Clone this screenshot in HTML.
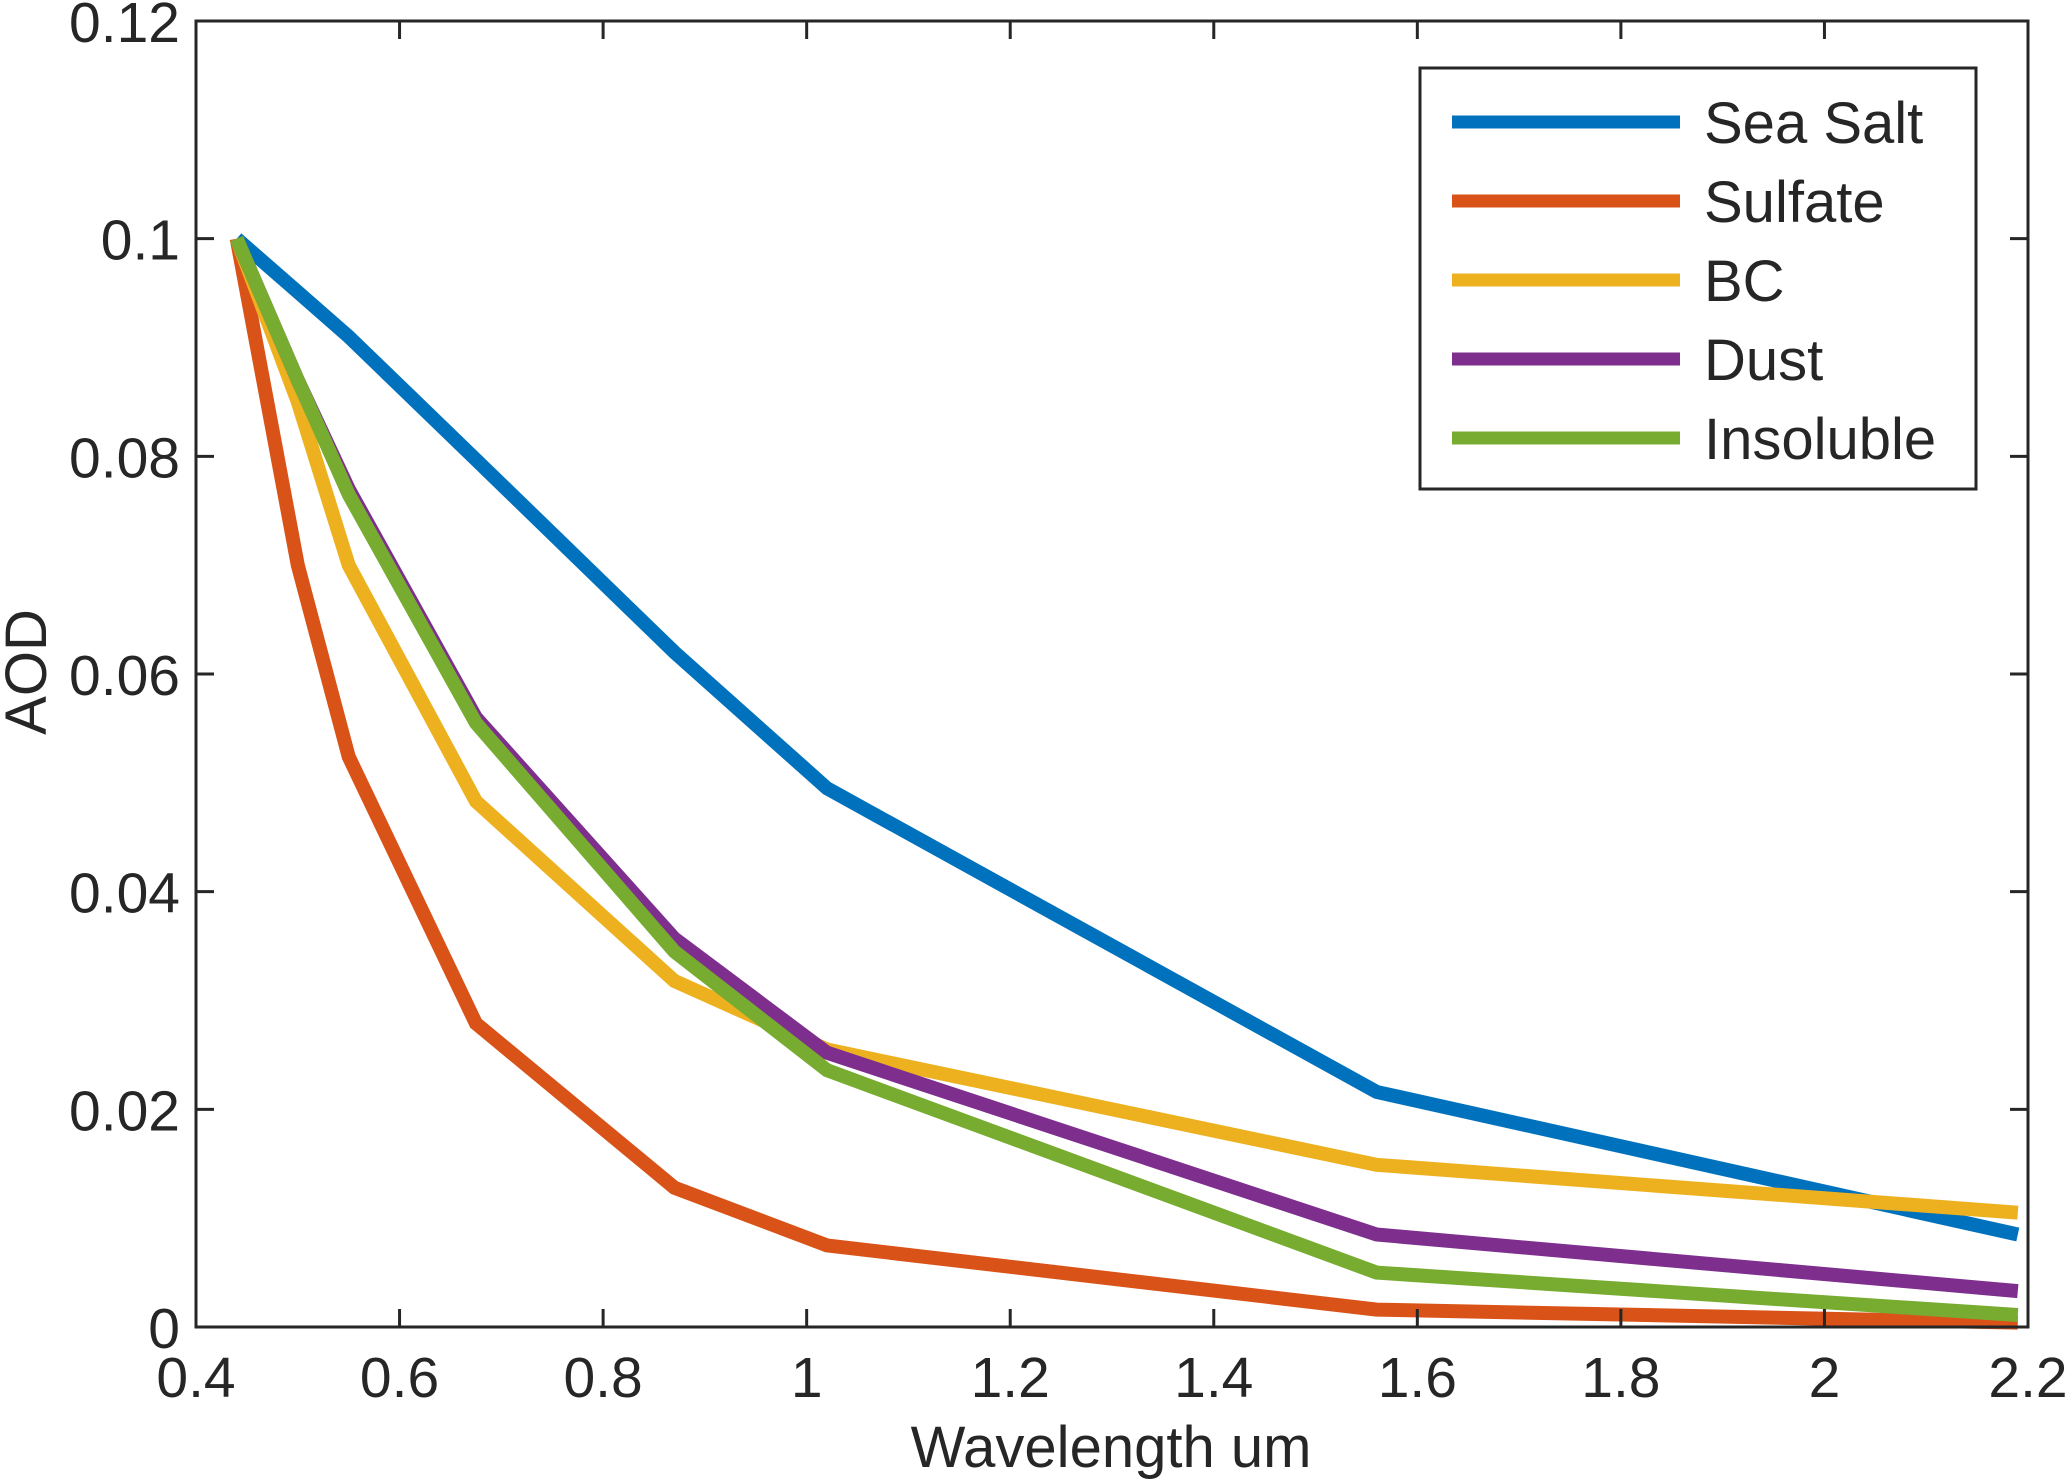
<!DOCTYPE html>
<html><head><meta charset="utf-8"><style>
html,body{margin:0;padding:0;background:#fff}
svg{display:block}
text{font-family:"Liberation Sans",Arial,sans-serif;fill:#262626}
</style></head><body>
<svg id="chart" width="2066" height="1481" viewBox="0 0 2066 1481">
<g id="series"></g>
<g id="axes"></g>
<g id="legend"></g>
</svg>
<script>
const wavelengths = [0.44, 0.5, 0.55, 0.675, 0.87, 1.02, 1.56, 2.19];
const seaSalt   = [0.1, 0.0951, 0.091, 0.0797, 0.062, 0.0495, 0.0216, 0.0085];
const sulfate   = [0.1, 0.070, 0.0524, 0.0279, 0.0128, 0.0075, 0.0016, 0.0004];
const bc        = [0.1, 0.085, 0.070, 0.0483, 0.0318, 0.0255, 0.0149, 0.0105];
const dust      = [0.1, 0.087, 0.077, 0.056, 0.0357, 0.0252, 0.0085, 0.0033];
const insoluble = [0.1, 0.087, 0.0765, 0.0555, 0.0345, 0.0236, 0.005, 0.0011];
const seriesNames = ["Sea Salt", "Sulfate", "BC", "Dust", "Insoluble"];
const xTicks = [0.4, 0.6, 0.8, 1, 1.2, 1.4, 1.6, 1.8, 2, 2.2];
const xTickLabels = ["0.4","0.6","0.8","1","1.2","1.4","1.6","1.8","2","2.2"];
const yTicks = [0, 0.02, 0.04, 0.06, 0.08, 0.1, 0.12];
const yTickLabels = ["0","0.02","0.04","0.06","0.08","0.1","0.12"];

const colors = ["#0072BD","#D95319","#EDB120","#7E2F8E","#77AC30"];
const L=196,R=2028,T=21,B=1327;
const xS=v=>L+(v-0.4)/(2.2-0.4)*(R-L);
const yS=v=>B-(v/0.12)*(B-T);
const NS="http://www.w3.org/2000/svg";
function mk(tag,attrs,parent){const e=document.createElementNS(NS,tag);for(const k in attrs)e.setAttribute(k,attrs[k]);parent.appendChild(e);return e;}
const sg=document.getElementById('series'), ag=document.getElementById('axes'), lg=document.getElementById('legend');
const allSeries=[seaSalt,sulfate,bc,dust,insoluble];
const keys=["sea-salt","sulfate","bc","dust","insoluble"];
allSeries.forEach((s,i)=>{
  const pts=s.map((v,j)=>xS(wavelengths[j]).toFixed(1)+","+yS(v).toFixed(1)).join(" ");
  const p=mk('polyline',{points:pts,fill:'none',stroke:colors[i],'stroke-width':14,'stroke-linejoin':'miter'},sg);
  
  
});
const box=mk('rect',{x:L,y:T,width:R-L,height:B-T,fill:'none',stroke:'#262626','stroke-width':3},ag);


xTicks.forEach((v,i)=>{
  const x=xS(v);
  mk('line',{x1:x,y1:B,x2:x,y2:B-18,stroke:'#262626','stroke-width':3},ag);
  mk('line',{x1:x,y1:T,x2:x,y2:T+18,stroke:'#262626','stroke-width':3},ag);
  const t=mk('text',{x:x,y:1397,'font-size':57,'text-anchor':'middle'},ag);
  t.textContent=xTickLabels[i];
  
  
});
yTicks.forEach((v,i)=>{
  const y=yS(v);
  mk('line',{x1:L,y1:y,x2:L+18,y2:y,stroke:'#262626','stroke-width':3},ag);
  mk('line',{x1:R,y1:y,x2:R-18,y2:y,stroke:'#262626','stroke-width':3},ag);
  const t=mk('text',{x:180,y:y+21,'font-size':57,'text-anchor':'end'},ag);
  t.textContent=yTickLabels[i];
  
  
});
const xt=mk('text',{x:1111,y:1467,'font-size':58,'text-anchor':'middle'},ag);
xt.textContent="Wavelength um";


const yt=mk('text',{x:0,y:0,'font-size':58,'text-anchor':'middle',transform:'translate(46,672) rotate(-90)'},ag);
yt.textContent="AOD";


const lb=mk('rect',{x:1420,y:68,width:556,height:421,fill:'#fff',stroke:'#262626','stroke-width':3},lg);


seriesNames.forEach((n,i)=>{
  const y=122+i*79;
  const ln=mk('line',{x1:1452,y1:y,x2:1680,y2:y,stroke:colors[i],'stroke-width':13},lg);
  
  
  const t=mk('text',{x:1704,y:y+21,'font-size':58,fill:'#000'},lg);
  t.textContent=n;
  
  
});
</script>
</body></html>
